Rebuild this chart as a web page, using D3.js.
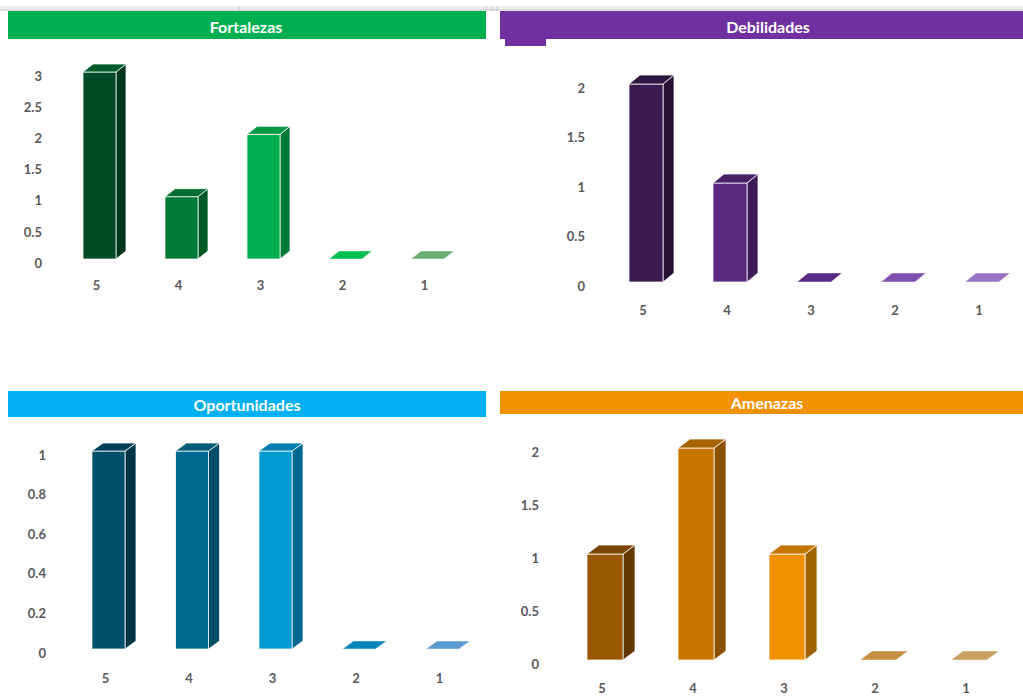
<!DOCTYPE html>
<html>
<head>
<meta charset="utf-8">
<script src="https://cdn.jsdelivr.net/npm/d3@7"></script>
<style>
  html, body { margin: 0; padding: 0; background: #ffffff; }
  svg { display: block; font-family: Lato, "Open Sans", "DejaVu Sans", sans-serif; }
</style>
</head>
<body>
<svg id="chart" width="1023" height="696"></svg>
<script>
// ---- data ----
const categories = ["5", "4", "3", "2", "1"];
const fortalezasValues = [3, 1, 2, 0, 0];
const debilidadesValues = [2, 1, 0, 0, 0];
const oportunidadesValues = [1, 1, 1, 0, 0];
const amenazasValues = [1, 2, 1, 0, 0];

const fortalezasTicks = [0, 0.5, 1, 1.5, 2, 2.5, 3];
const debilidadesTicks = [0, 0.5, 1, 1.5, 2];
const oportunidadesTicks = [0, 0.2, 0.4, 0.6, 0.8, 1];
const amenazasTicks = [0, 0.5, 1, 1.5, 2];

const titles = ["Fortalezas", "Debilidades", "Oportunidades", "Amenazas"];

// ---- styles ----
const headerColors = ["#00b050", "#7030a0", "#00b0f0", "#f39200"];
const frontColors = [
  ["#004b23", "#007a37", "#00b050", "#00b050", "#70ad78"],
  ["#3a1a50", "#5a287e", "#5c2d88", "#8050b0", "#9a72c4"],
  ["#004f6b", "#006b91", "#009bd5", "#0086bb", "#5b9bd0"],
  ["#985700", "#c77700", "#f29100", "#c69040", "#c9a060"]
];
const sideColors = [
  ["#00361a", "#005a28", "#007a37", "#007a37", "#4e8a58"],
  ["#261034", "#3e1b58", "#3e1b58", "#5a3480", "#7050a0"],
  ["#003449", "#004b66", "#006990", "#006990", "#3f78a8"],
  ["#623800", "#8a5200", "#a36200", "#9a6a2a", "#a07a40"]
];
const topColors = [
  ["#005a2a", "#006e31", "#009a45", "#00c050", "#6aaf76"],
  ["#2f1542", "#4a2169", "#5a2a85", "#7f50b0", "#9a72c4"],
  ["#003f57", "#005a7a", "#0080b0", "#0086bb", "#5b9bd0"],
  ["#7a4500", "#a66300", "#c47600", "#c69040", "#c9a060"]
];

// ---- layout ----
const panels = [
  { values: fortalezasValues, ticks: fortalezasTicks, max: 3,
    header: { x: 8, y: 11, w: 478, h: 28, tx: 246, ty: 27 },
    firstX: 83, barW: 33, step: 82, y0: 259, yMax: 72, dx: 10, dy: 8,
    yLabelX: 42, xLabelY: 285 },
  { values: debilidadesValues, ticks: debilidadesTicks, max: 2,
    header: { x: 500, y: 11, w: 540, h: 28, tx: 768, ty: 27 },
    firstX: 629, barW: 34, step: 84, y0: 282, yMax: 84, dx: 11, dy: 9,
    yLabelX: 585, xLabelY: 310 },
  { values: oportunidadesValues, ticks: oportunidadesTicks, max: 1,
    header: { x: 8, y: 391, w: 478, h: 26, tx: 247, ty: 405 },
    firstX: 92, barW: 33, step: 83.5, y0: 649, yMax: 451, dx: 11, dy: 8,
    yLabelX: 46, xLabelY: 678 },
  { values: amenazasValues, ticks: amenazasTicks, max: 2,
    header: { x: 500, y: 391, w: 540, h: 23, tx: 767, ty: 403 },
    firstX: 587, barW: 36, step: 91, y0: 660, yMax: 448, dx: 12, dy: 9,
    yLabelX: 539, xLabelY: 688 }
];

const svg = d3.select("#chart");

// top ruler strip
svg.append("rect").attr("x", 0).attr("y", 6).attr("width", 1023).attr("height", 4).attr("fill", "#efefef");
svg.append("line").attr("x1", 0).attr("x2", 1023).attr("y1", 10).attr("y2", 10).attr("stroke", "#c4c4c4").attr("stroke-width", 1);
svg.append("line").attr("x1", 239).attr("x2", 239).attr("y1", 6).attr("y2", 10).attr("stroke", "#c4c4c4");
[486, 492, 497].forEach(x => svg.append("line").attr("x1", x).attr("x2", x).attr("y1", 6).attr("y2", 11).attr("stroke", "#c4c4c4"));

panels.forEach((p, pi) => {
  const g = svg.append("g");
  // header band
  g.append("rect")
    .attr("x", p.header.x).attr("y", p.header.y)
    .attr("width", p.header.w).attr("height", p.header.h)
    .attr("fill", headerColors[pi]);
  if (pi === 1) {
    g.append("rect").attr("x", 505).attr("y", 39).attr("width", 41).attr("height", 7).attr("fill", headerColors[pi]);
  }
  g.append("text")
    .attr("x", p.header.tx).attr("y", p.header.ty)
    .attr("dy", "0.35em")
    .attr("text-anchor", "middle")
    .attr("fill", "#ffffff")
    .attr("font-size", 16)
    .attr("font-weight", 700)
    .text(titles[pi]);

  // scales
  const pad = 1 - p.barW / p.step;
  const left = p.firstX - pad * p.step / 2;
  const x = d3.scaleBand().domain(categories)
    .range([left, left + 5 * p.step])
    .paddingInner(pad).paddingOuter(pad / 2);
  const y = d3.scaleLinear().domain([0, p.max]).range([p.y0, p.yMax]);

  // bars
  const bars = g.selectAll("g.bar").data(categories).join("g").attr("class", "bar");
  const strokeCol = "rgba(255,255,255,0.75)";
  bars.each(function (c, i) {
    const v = p.values[i];
    const bx = x(c), bw = x.bandwidth();
    const yt = y(v), yb = y(0);
    const sel = d3.select(this);
    if (v > 0) {
      // side face
      sel.append("path")
        .attr("d", `M${bx + bw},${yt} L${bx + bw + p.dx},${yt - p.dy} L${bx + bw + p.dx},${yb - p.dy} L${bx + bw},${yb} Z`)
        .attr("fill", sideColors[pi][i]).attr("stroke", strokeCol).attr("stroke-width", 1);
      // front face
      sel.append("rect")
        .attr("x", bx).attr("y", yt).attr("width", bw).attr("height", yb - yt)
        .attr("fill", frontColors[pi][i]).attr("stroke", strokeCol).attr("stroke-width", 1);
    }
    // top face
    sel.append("path")
      .attr("d", `M${bx},${yt} L${bx + p.dx},${yt - p.dy} L${bx + bw + p.dx},${yt - p.dy} L${bx + bw},${yt} Z`)
      .attr("fill", topColors[pi][i]).attr("stroke", strokeCol).attr("stroke-width", v > 0 ? 1 : 0.6);
  });

  // y axis
  const yAxis = d3.axisLeft(y).tickValues(p.ticks).tickSize(0).tickPadding(0)
    .tickFormat(d3.format("~g"));
  const ya = g.append("g").attr("transform", `translate(${p.yLabelX},4)`).call(yAxis);
  ya.select(".domain").remove();
  ya.selectAll("text").attr("fill", "#595959").attr("font-size", 13).attr("font-weight", 700)
    .attr("font-family", "Lato, 'Open Sans', sans-serif");

  // x axis
  const xAxis = d3.axisBottom(x).tickSize(0).tickPadding(0);
  const xa = g.append("g").attr("transform", `translate(-3,${p.xLabelY})`).call(xAxis);
  xa.select(".domain").remove();
  xa.selectAll("text").attr("dy", "0.35em").attr("fill", "#595959").attr("font-size", 13).attr("font-weight", 700)
    .attr("font-family", "Lato, 'Open Sans', sans-serif");
});
</script>
</body>
</html>
